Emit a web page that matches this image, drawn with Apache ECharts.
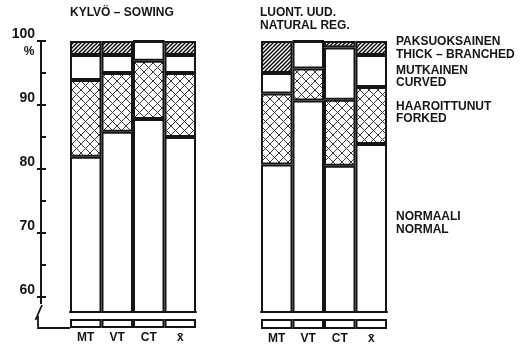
<!DOCTYPE html>
<html>
<head>
<meta charset="utf-8">
<script src="https://cdn.jsdelivr.net/npm/echarts@6/dist/echarts.min.js"></script>
<style>html,body{margin:0;padding:0;background:#fff}#c{width:524px;height:347px}</style>
</head>
<body>
<div id="c"></div>
<script>
// ---- data ----
const categories = ['MT', 'VT', 'CT', 'x\u0304'];
// Sowing (KYLVÖ)
const sowNormal = [81.9, 85.8, 87.8, 85.0];
const sowForked = [12.0, 9.2, 9.1, 10.0];
const sowCurved = [3.9, 2.8, 3.1, 2.8];
const sowThick  = [2.2, 2.2, 0, 2.2];
// Natural regeneration (LUONT. UUD.)
const natNormal = [80.7, 90.7, 80.5, 83.9];
const natForked = [11.1, 5.0, 10.3, 8.9];
const natCurved = [3.2, 4.3, 8.2, 5.0];
const natThick  = [5.0, 0, 1.0, 2.2];
// axis
const majorTicks = [60, 70, 80, 90, 100];
const minorTicks = [60, 65, 70, 75, 80, 85, 90, 95, 100];
const axisMin = 57.65, axisMax = 100;

// ---- patterns ----
function hatchPattern() {
  const c = document.createElement('canvas'); c.width = 4; c.height = 4;
  const g = c.getContext('2d');
  g.fillStyle = '#fff'; g.fillRect(0, 0, 4, 4);
  g.strokeStyle = '#000'; g.lineWidth = 1.4;
  g.beginPath();
  g.moveTo(-1, 5); g.lineTo(5, -1);
  g.moveTo(-1, 1); g.lineTo(1, -1);
  g.moveTo(3, 5); g.lineTo(5, 3);
  g.stroke();
  return { image: c, repeat: 'repeat' };
}
function crossPattern() {
  const s = 9;
  const c = document.createElement('canvas'); c.width = s; c.height = s;
  const g = c.getContext('2d');
  g.fillStyle = '#fff'; g.fillRect(0, 0, s, s);
  g.strokeStyle = '#3a3a3a'; g.lineWidth = 1;
  g.beginPath();
  g.moveTo(0, 0); g.lineTo(s, s);
  g.moveTo(s, 0); g.lineTo(0, s);
  g.stroke();
  return { image: c, repeat: 'repeat' };
}
const HATCH = hatchPattern();
const CROSS = crossPattern();

const INK = '#151515';
const FONT = 'Liberation Sans, Arial, sans-serif';
const border = { borderColor: INK, borderWidth: 2 };

function stackSeries(xi, yi, stack, normal, forked, curved, thick) {
  const base = { type: 'bar', xAxisIndex: xi, yAxisIndex: yi, stack: stack, barWidth: '100%', barCategoryGap: 0, animation: false, silent: true };
  return [
    Object.assign({}, base, { name: 'normal', data: normal, itemStyle: Object.assign({ color: '#fff' }, border) }),
    Object.assign({}, base, { name: 'forked', data: forked, itemStyle: Object.assign({ color: CROSS }, border) }),
    Object.assign({}, base, { name: 'curved', data: curved, itemStyle: Object.assign({ color: '#fff' }, border) }),
    Object.assign({}, base, { name: 'thick', data: thick, itemStyle: Object.assign({ color: HATCH }, border) })
  ];
}
function boxSeries(xi, yi) {
  return { type: 'bar', xAxisIndex: xi, yAxisIndex: yi, barWidth: '100%', barCategoryGap: 0, animation: false, silent: true,
    data: categories.map(() => 1), itemStyle: Object.assign({ color: '#fff' }, border) };
}

const catAxisBars = (gi) => ({ type: 'category', gridIndex: gi, data: categories, axisLine: { show: true, lineStyle: { color: INK, width: 2 } }, axisTick: { show: false }, axisLabel: { show: false } });
const catAxisBox = (gi) => ({ type: 'category', gridIndex: gi, data: categories, axisLine: { show: false }, axisTick: { show: false },
  axisLabel: { show: true, color: INK, fontFamily: FONT, fontWeight: 'bold', fontSize: 12, margin: 4 } });

const txt = (text, x, y, extra) => ({ type: 'text', style: Object.assign({ text: text, x: x, y: y, verticalAlign: 'middle', font: 'bold 12px ' + FONT, fill: INK }, extra || {}) });

const option = {
  backgroundColor: '#fff',
  animation: false,
  grid: [
    { left: 70, top: 41, width: 126, height: 271 },
    { left: 70, top: 319, width: 126, height: 9 },
    { left: 261, top: 41, width: 126, height: 271 },
    { left: 261, top: 319, width: 126, height: 10 }
  ],
  xAxis: [catAxisBars(0), catAxisBox(1), catAxisBars(2), catAxisBox(3)],
  yAxis: [
    { type: 'value', gridIndex: 0, min: axisMin, max: axisMax, position: 'left', offset: 29,
      axisLine: { show: true, lineStyle: { color: INK, width: 2 } },
      axisTick: { show: true, inside: true, length: 5, customValues: minorTicks, lineStyle: { color: INK, width: 2 } },
      axisLabel: { show: false }, splitLine: { show: false } },
    { type: 'value', gridIndex: 0, min: axisMin, max: axisMax, position: 'left', offset: 29,
      axisLine: { show: false },
      axisTick: { show: true, inside: false, length: 4, customValues: majorTicks, lineStyle: { color: INK, width: 2 } },
      axisLabel: { show: true, customValues: majorTicks, color: INK, fontFamily: FONT, fontWeight: 'bold', fontSize: 14, margin: 6, verticalAlign: 'bottom', lineHeight: 14 },
      splitLine: { show: false } },
    { type: 'value', gridIndex: 1, min: 0, max: 1, show: false },
    { type: 'value', gridIndex: 2, min: axisMin, max: axisMax, show: false },
    { type: 'value', gridIndex: 3, min: 0, max: 1, show: false }
  ],
  series: [].concat(
    stackSeries(0, 0, 'sow', sowNormal, sowForked, sowCurved, sowThick),
    [boxSeries(1, 2)],
    stackSeries(2, 3, 'nat', natNormal, natForked, natCurved, natThick),
    [boxSeries(3, 4)]
  ),
  graphic: [
    // axis break
    { type: 'rect', shape: { x: 37, y: 304, width: 8, height: 10 }, style: { fill: '#fff' }, z: 100 },
    { type: 'line', shape: { x1: 35.5, y1: 320, x2: 42, y2: 305 }, style: { stroke: INK, lineWidth: 1.8 }, z: 101 },
    { type: 'polyline', shape: { points: [[38, 316], [38, 328], [70, 328]] }, style: { stroke: INK, lineWidth: 1.8, fill: null }, z: 101 },
    // titles
    txt('KYLVÖ – SOWING', 70, 13),
    txt('LUONT. UUD.', 260, 13),
    txt('NATURAL REG.', 260, 25.5),
    txt('%', 29, 52, { align: 'center' }),
    // category annotations
    txt('PAKSUOKSAINEN', 396, 42),
    txt('THICK – BRANCHED', 396, 55),
    txt('MUTKAINEN', 396, 71),
    txt('CURVED', 396, 83),
    txt('HAAROITTUNUT', 396, 107),
    txt('FORKED', 396, 119),
    txt('NORMAALI', 396, 217),
    txt('NORMAL', 396, 230)
  ]
};

const chart = echarts.init(document.getElementById('c'), null, { renderer: 'canvas' });
chart.setOption(option);
</script>
</body>
</html>
